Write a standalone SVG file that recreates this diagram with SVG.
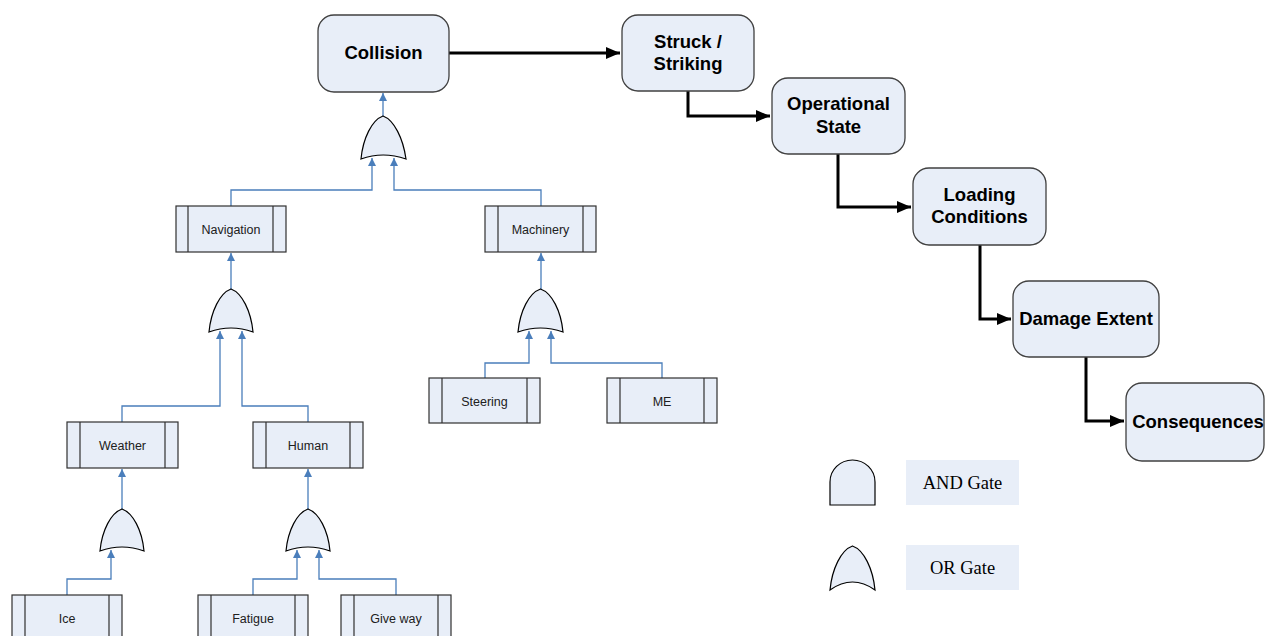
<svg xmlns="http://www.w3.org/2000/svg" width="1265" height="636" viewBox="0 0 1265 636">
<style>
.rb{fill:#e8eef8;stroke:#404040;stroke-width:1.3}
.ev{fill:#e8eef8;stroke:#303030;stroke-width:1.2}
.il{stroke:#303030;stroke-width:1.2}
.gate{fill:#e8eef8;stroke:#000;stroke-width:1.2}
.bt{font-family:"Liberation Sans",Arial,sans-serif;font-weight:bold;font-size:18.5px;fill:#000;text-anchor:middle}
.st{font-family:"Liberation Sans",Arial,sans-serif;font-size:12.5px;fill:#202020;text-anchor:middle}
.lt{font-family:"Liberation Serif","Times New Roman",serif;font-size:18.5px;fill:#000;text-anchor:middle}
.bl{fill:none;stroke:#4a7ebb;stroke-width:1.3}
.bk{fill:none;stroke:#000;stroke-width:3}
</style>
<defs>
<marker id="ab" markerUnits="userSpaceOnUse" markerWidth="8" markerHeight="8" refX="8" refY="4" orient="auto"><path d="M0,0 L8,4 L0,8 z" fill="#4a7ebb"/></marker>
<marker id="ak" markerUnits="userSpaceOnUse" markerWidth="14" markerHeight="12" refX="14" refY="6" orient="auto"><path d="M0,0 L14,6 L0,12 z" fill="#000"/></marker>
</defs>

<g id="connectors">
<path class="bk" d="M449,53 L620,53" marker-end="url(#ak)"/>
<path class="bk" d="M688,91 L688,116 L770,116" marker-end="url(#ak)"/>
<path class="bk" d="M838,154 L838,207 L911,207" marker-end="url(#ak)"/>
<path class="bk" d="M980,245 L980,319 L1011,319" marker-end="url(#ak)"/>
<path class="bk" d="M1086,357 L1086,421 L1124,421" marker-end="url(#ak)"/>

<path class="bl" d="M383,116 L383,93" marker-end="url(#ab)"/>
<path class="bl" d="M231,206 L231,190 L372,190 L372,158" marker-end="url(#ab)"/>
<path class="bl" d="M541,206 L541,190 L394,190 L394,158" marker-end="url(#ab)"/>

<path class="bl" d="M231,289 L231,253" marker-end="url(#ab)"/>
<path class="bl" d="M122,422 L122,406 L220,406 L220,331" marker-end="url(#ab)"/>
<path class="bl" d="M308,422 L308,406 L242,406 L242,331" marker-end="url(#ab)"/>

<path class="bl" d="M541,289 L541,253" marker-end="url(#ab)"/>
<path class="bl" d="M485,378 L485,363 L529,363 L529,331" marker-end="url(#ab)"/>
<path class="bl" d="M662,378 L662,363 L551,363 L551,331" marker-end="url(#ab)"/>

<path class="bl" d="M122,509 L122,469" marker-end="url(#ab)"/>
<path class="bl" d="M67,595 L67,579 L111,579 L111,550" marker-end="url(#ab)"/>
<path class="bl" d="M308,509 L308,469" marker-end="url(#ab)"/>
<path class="bl" d="M253,595 L253,579 L297,579 L297,550" marker-end="url(#ab)"/>
<path class="bl" d="M396,595 L396,579 L319,579 L319,550" marker-end="url(#ab)"/>
</g>

<g id="collision"><rect class="rb" x="318" y="15" width="131" height="77" rx="16"/><text class="bt" x="383.5" y="59">Collision</text></g>
<g id="struck"><rect class="rb" x="622" y="15" width="132" height="76" rx="16"/><text class="bt" x="688" y="48">Struck /</text><text class="bt" x="688" y="70">Striking</text></g>
<g id="operational"><rect class="rb" x="772" y="78" width="133" height="76" rx="16"/><text class="bt" x="838.5" y="110">Operational</text><text class="bt" x="838.5" y="133">State</text></g>
<g id="loading"><rect class="rb" x="913" y="168" width="133" height="77" rx="16"/><text class="bt" x="979.5" y="201">Loading</text><text class="bt" x="979.5" y="223">Conditions</text></g>
<g id="damage"><rect class="rb" x="1013" y="281" width="146" height="76" rx="16"/><text class="bt" x="1086" y="325">Damage Extent</text></g>
<g id="consequences"><rect class="rb" x="1126" y="383" width="138" height="78" rx="16"/><text class="bt" x="1198" y="428">Consequences</text></g>

<g id="gate-top"><path class="gate" d="M361,159 C363,138 372,120 383,116 C394,120 403,138 406,159 Q383,151 361,159 Z"/></g>
<g id="gate-nav"><path class="gate" d="M209,332 C211,311 220,293 231,289 C242,293 251,311 253,332 Q231,324 209,332 Z"/></g>
<g id="gate-mach"><path class="gate" d="M518,332 C520,311 529,293 540.5,289 C552,293 561,311 563,332 Q540.5,324 518,332 Z"/></g>
<g id="gate-weather"><path class="gate" d="M100,551 C102,530 111,513 122,509 C133,513 142,530 144,551 Q122,543 100,551 Z"/></g>
<g id="gate-human"><path class="gate" d="M286,551 C288,530 297,513 308,509 C319,513 328,530 330,551 Q308,543 286,551 Z"/></g>

<g id="navigation"><rect class="ev" x="176" y="206" width="110" height="46"/><line class="il" x1="188" y1="206" x2="188" y2="252"/><line class="il" x1="273" y1="206" x2="273" y2="252"/><text class="st" x="231" y="233.5">Navigation</text></g>
<g id="machinery"><rect class="ev" x="485" y="206" width="111" height="46"/><line class="il" x1="498" y1="206" x2="498" y2="252"/><line class="il" x1="583" y1="206" x2="583" y2="252"/><text class="st" x="540.5" y="233.5">Machinery</text></g>
<g id="steering"><rect class="ev" x="429" y="378" width="111" height="45"/><line class="il" x1="442" y1="378" x2="442" y2="423"/><line class="il" x1="527" y1="378" x2="527" y2="423"/><text class="st" x="484.5" y="405.5">Steering</text></g>
<g id="me"><rect class="ev" x="607" y="378" width="110" height="45"/><line class="il" x1="620" y1="378" x2="620" y2="423"/><line class="il" x1="704" y1="378" x2="704" y2="423"/><text class="st" x="662" y="405.5">ME</text></g>
<g id="weather"><rect class="ev" x="67" y="422" width="111" height="46"/><line class="il" x1="80" y1="422" x2="80" y2="468"/><line class="il" x1="165" y1="422" x2="165" y2="468"/><text class="st" x="122.5" y="449.5">Weather</text></g>
<g id="human"><rect class="ev" x="253" y="422" width="110" height="46"/><line class="il" x1="266" y1="422" x2="266" y2="468"/><line class="il" x1="350" y1="422" x2="350" y2="468"/><text class="st" x="308" y="449.5">Human</text></g>
<g id="ice"><rect class="ev" x="12" y="595" width="110" height="46"/><line class="il" x1="25" y1="595" x2="25" y2="641"/><line class="il" x1="109" y1="595" x2="109" y2="641"/><text class="st" x="67" y="622.5">Ice</text></g>
<g id="fatigue"><rect class="ev" x="198" y="595" width="110" height="46"/><line class="il" x1="211" y1="595" x2="211" y2="641"/><line class="il" x1="295" y1="595" x2="295" y2="641"/><text class="st" x="253" y="622.5">Fatigue</text></g>
<g id="giveway"><rect class="ev" x="341" y="595" width="110" height="46"/><line class="il" x1="354" y1="595" x2="354" y2="641"/><line class="il" x1="438" y1="595" x2="438" y2="641"/><text class="st" x="396" y="622.5">Give way</text></g>

<g id="legend-and"><path class="gate" d="M830,505 L830,482 A22.5,22 0 0 1 875,482 L875,505 Z"/><rect x="906" y="460" width="113" height="45" fill="#e8eef8"/><text class="lt" x="962.5" y="489">AND Gate</text></g>
<g id="legend-or"><path class="gate" d="M830,590 C832,569 841,550 852.5,546 C864,550 873,569 875,590 Q852.5,574 830,590 Z"/><rect x="906" y="545" width="113" height="45" fill="#e8eef8"/><text class="lt" x="962.5" y="574">OR Gate</text></g>
</svg>
